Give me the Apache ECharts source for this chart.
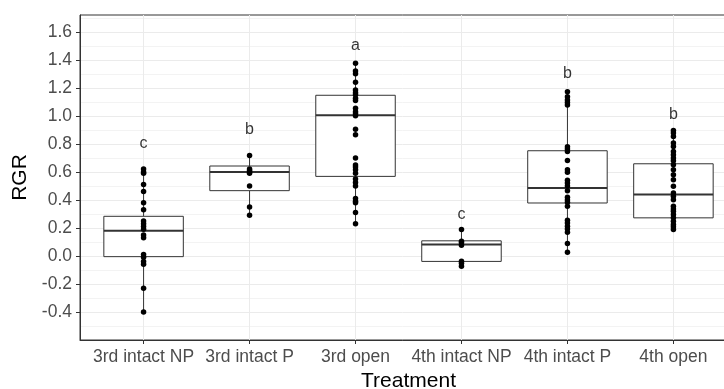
<!DOCTYPE html>
<html>
<head>
<meta charset="utf-8">
<script src="https://cdn.jsdelivr.net/npm/echarts@6/dist/echarts.min.js"></script>
<style>html,body{margin:0;padding:0;background:#fff}#c{width:724px;height:389px}</style>
</head>
<body>
<div id="c"></div>
<script>
const categories = ['3rd intact NP', '3rd intact P', '3rd open', '4th intact NP', '4th intact P', '4th open'];
const yTicks = [-0.4, -0.2, 0.0, 0.2, 0.4, 0.6, 0.8, 1.0, 1.2, 1.4, 1.6];
// box statistics
const whiskerLow  = [-0.40, 0.29, 0.23, -0.073, 0.027, 0.189];
const q1          = [-0.005, 0.466, 0.568, -0.039, 0.378, 0.272];
const median      = [0.18, 0.60, 1.005, 0.082, 0.485, 0.438];
const q3          = [0.283, 0.642, 1.147, 0.108, 0.751, 0.658];
const whiskerHigh = [0.62, 0.717, 1.375, 0.189, 1.173, 0.895];
// individual observations
const pts3rdIntactNP = [0.62, 0.60, 0.59, 0.51, 0.46, 0.38, 0.33, 0.25, 0.23, 0.21, 0.19, 0.15, 0.13, 0.01, -0.01, -0.04, -0.06, -0.23, -0.40];
const pts3rdIntactP = [0.717, 0.62, 0.61, 0.60, 0.59, 0.50, 0.35, 0.29];
const pts3rdOpen = [1.375, 1.32, 1.30, 1.24, 1.185, 1.165, 1.15, 1.126, 1.11, 1.055, 1.03, 1.015, 1.0, 0.905, 0.865, 0.70, 0.65, 0.635, 0.615, 0.59, 0.55, 0.525, 0.50, 0.41, 0.39, 0.38, 0.31, 0.23];
const pts4thIntactNP = [0.189, 0.105, 0.094, 0.077, -0.037, -0.053, -0.073];
const pts4thIntactP = [1.173, 1.137, 1.114, 1.095, 1.078, 0.78, 0.763, 0.746, 0.682, 0.616, 0.597, 0.54, 0.52, 0.50, 0.466, 0.419, 0.40, 0.383, 0.354, 0.255, 0.236, 0.212, 0.193, 0.17, 0.089, 0.027];
const pts4thOpen = [0.895, 0.877, 0.853, 0.806, 0.782, 0.746, 0.722, 0.699, 0.68, 0.651, 0.616, 0.58, 0.544, 0.497, 0.45, 0.426, 0.402, 0.354, 0.336, 0.319, 0.295, 0.272, 0.248, 0.224, 0.208, 0.189];
const groupLetters = ['c', 'b', 'a', 'c', 'b', 'b'];
const letterY = [0.80, 0.905, 1.505, 0.295, 1.30, 1.007];

const allPts = [pts3rdIntactNP, pts3rdIntactP, pts3rdOpen, pts4thIntactNP, pts4thIntactP, pts4thOpen];
const catPos = categories.map((c, i) => i + 1);
const boxData = categories.map((c, i) => [catPos[i], whiskerLow[i], q1[i], median[i], q3[i], whiskerHigh[i]]);
const pointData = [];
allPts.forEach((arr, i) => arr.forEach(v => pointData.push([catPos[i], v])));
const letterData = categories.map((c, i) => ({ value: [catPos[i], letterY[i]], letter: groupLetters[i] }));

const FONT = '"Liberation Sans", Arial, sans-serif';
const chart = echarts.init(document.getElementById('c'), null, { renderer: 'canvas' });
chart.setOption({
  animation: false,
  backgroundColor: '#ffffff',
  grid: { left: 80, top: 15, width: 657, height: 325, show: true, borderColor: '#333333', borderWidth: 1,
    backgroundColor: 'transparent', containLabel: false, outerBoundsMode: 'none' },
  xAxis: {
    type: 'value', min: 0.4, max: 6.6,
    name: 'Treatment', nameLocation: 'middle', nameGap: 30,
    nameTextStyle: { fontFamily: FONT, fontSize: 21, color: '#000' },
    axisLine: { show: true, onZero: false, lineStyle: { color: '#333333', width: 1 } },
    axisTick: { show: true, length: 4, lineStyle: { color: '#333333' }, customValues: catPos },
    axisLabel: { customValues: catPos, margin: 8, fontFamily: FONT, fontSize: 17.5, color: '#4d4d4d',
      formatter: v => categories[Math.round(v) - 1] || '' },
    splitLine: { show: true, lineStyle: { color: '#ebebeb', width: 1 } }
  },
  yAxis: {
    type: 'value', min: -0.6, max: 1.72, interval: 0.2,
    name: 'RGR', nameLocation: 'middle', nameGap: 43, nameRotate: 90,
    nameTextStyle: { fontFamily: FONT, fontSize: 21, color: '#000' },
    axisLine: { show: true, onZero: false, lineStyle: { color: '#333333', width: 1 } },
    axisTick: { show: true, length: 4, lineStyle: { color: '#333333' }, customValues: yTicks },
    axisLabel: { customValues: yTicks, margin: 8, fontFamily: FONT, fontSize: 17.5, color: '#4d4d4d',
      formatter: v => v.toFixed(1) },
    splitLine: { show: true, lineStyle: { color: '#ebebeb', width: 1 } },
    minorTick: { show: false, splitNumber: 2 },
    minorSplitLine: { show: true, lineStyle: { color: '#f3f3f3', width: 1 } }
  },
  series: [
    {
      type: 'custom', z: 2,
      encode: { x: 0, y: [1, 2, 3, 4, 5] },
      data: boxData,
      renderItem: function (params, api) {
        const x = api.value(0);
        const lo = api.coord([x, api.value(1)]);
        const b1 = api.coord([x, api.value(2)]);
        const md = api.coord([x, api.value(3)]);
        const b3 = api.coord([x, api.value(4)]);
        const hi = api.coord([x, api.value(5)]);
        const w = api.size([0.75, 0])[0];
        const stroke = '#333333';
        return {
          type: 'group', children: [
            { type: 'line', shape: { x1: b3[0], y1: b3[1], x2: hi[0], y2: hi[1] }, style: { stroke: stroke, lineWidth: 1 } },
            { type: 'line', shape: { x1: b1[0], y1: b1[1], x2: lo[0], y2: lo[1] }, style: { stroke: stroke, lineWidth: 1 } },
            { type: 'rect', shape: { x: md[0] - w / 2, y: b3[1], width: w, height: b1[1] - b3[1] }, style: { fill: '#ffffff', stroke: stroke, lineWidth: 1 } },
            { type: 'line', shape: { x1: md[0] - w / 2, y1: md[1], x2: md[0] + w / 2, y2: md[1] }, style: { stroke: stroke, lineWidth: 2 } }
          ]
        };
      }
    },
    {
      type: 'scatter', z: 3, symbol: 'circle', symbolSize: 5.5,
      itemStyle: { color: '#000000', opacity: 1 },
      data: pointData
    },
    {
      type: 'scatter', z: 4, symbolSize: 1,
      itemStyle: { color: 'transparent' },
      data: letterData,
      label: { show: true, position: 'inside', fontFamily: FONT, fontSize: 16, color: '#000',
        formatter: p => p.data.letter }
    }
  ]
});
</script>
</body>
</html>
